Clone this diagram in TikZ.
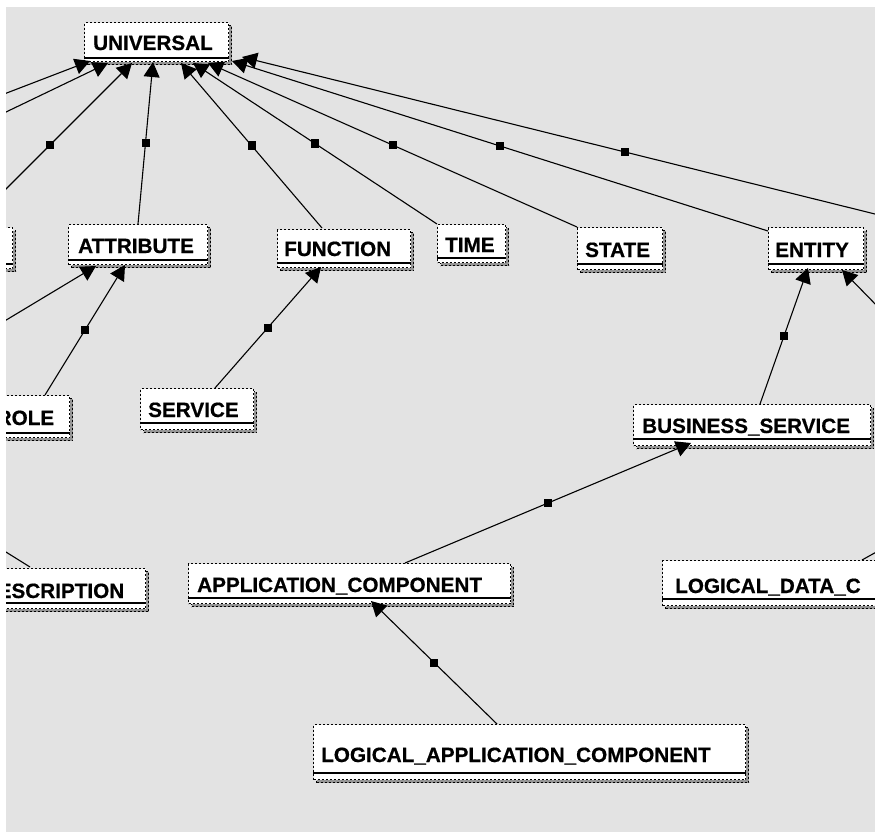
\documentclass[tikz,border=0pt]{standalone}
\usepackage{fontspec}
\setmainfont{Liberation Sans}[BoldFeatures={FakeBold=0.6}]
\usetikzlibrary{arrows.meta,shadows}

\definecolor{canvas}{HTML}{E3E3E3}
\definecolor{shade}{HTML}{959595}

\tikzset{
  classbox/.style={draw=black, line width=1.2pt, dash pattern=on 2pt off 2pt,
    fill=white, inner sep=0pt, anchor=north west,
    copy shadow={shadow xshift=3pt, shadow yshift=-3pt, fill=shade,
      draw=black, dash pattern=on 2pt off 2pt}},
  sepline/.style={draw=black, line width=1.6pt},
  classname/.style={font=\bfseries\fontsize{20.7}{24}\selectfont,
    anchor=base west, inner sep=0pt},
  gen/.style={draw=black, line width=1.1pt,
    -{Triangle[length=15pt,width=16pt]}},
  midmark/.style={rectangle, fill=black, draw=none,
    minimum size=8pt, inner sep=0pt},
}

% class box: name, left, top, right, bottom, separator y, text x, baseline, label
\newcommand\umlclass[9]{%
  \node[classbox, minimum width={(#4-#2)*1pt}, minimum height={(#5-#3)*1pt}] (#1) at (#2,#3) {};
  \draw[sepline] ([yshift={(#5-#6)*1pt}]#1.south west) -- ([yshift={(#5-#6)*1pt}]#1.south east);
  \node[classname] (#1-name) at (#7,#8) {#9};
}

\begin{document}
\begin{tikzpicture}[x=1pt, y=-1pt]
\useasboundingbox (0,0) rectangle (875,832);
\fill[white] (0,0) rectangle (875,832);
\fill[canvas] (6,7) rectangle (875,832);

\begin{scope}
\clip (6,7) rectangle (875,832);

% classes
\umlclass{univ}{84}{22}{228}{61}{57}{93}{50}{UNIVERSAL}
\umlclass{leftbox}{-100}{227}{12}{268}{263}{-90}{256}{}
\umlclass{attr}{68}{224}{207}{264}{259}{78}{253}{ATTRIBUTE}
\umlclass{func}{277}{229}{410}{267}{262}{284}{256}{FUNCTION}
\umlclass{time}{437}{224}{505}{262}{257}{445}{252}{TIME}
\umlclass{state}{577}{227}{662}{269}{263}{585}{257}{STATE}
\umlclass{entity}{768}{227}{863}{269}{263}{775}{257}{ENTITY}
\umlclass{role}{-40}{395}{69}{437}{432}{-3.5}{425}{ROLE}
\umlclass{service}{140}{388}{253}{429}{422}{148}{417}{SERVICE}
\umlclass{bservice}{633}{404}{870}{445}{438}{642}{433}{BUSINESS\_SERVICE}
\umlclass{descr}{-30}{568}{145}{608}{602}{-2.5}{598}{ESCRIPTION}
\umlclass{appcomp}{188}{563}{510}{603}{597}{197}{592}{APPLICATION\_COMPONENT}
\umlclass{ldc}{662}{560}{1000}{605}{598}{675}{593}{LOGICAL\_DATA\_C}
\umlclass{lac}{313}{724}{745}{779}{772}{321}{762}{LOGICAL\_APPLICATION\_COMPONENT}

% connector end points
\coordinate (ua) at (90,61);   \coordinate (a0) at (-100,134);
\coordinate (ub) at (108,63);  \coordinate (b0) at (-150,187);
\coordinate (uc) at (132,63);  \coordinate (c0) at (-32,227);
\coordinate (ud) at (153,62);  \coordinate (attrtop) at (138,224);
\coordinate (ue) at (181,63);  \coordinate (functop) at (322,228);
\coordinate (uf) at (193,63);  \coordinate (timetop) at (437,224);
\coordinate (ug) at (208,63);  \coordinate (statetop) at (577,227);
\coordinate (uh) at (232,61);  \coordinate (entitytop) at (768,231);
\coordinate (ui) at (242,57);  \coordinate (i0) at (1008,247);

\coordinate (attrA) at (96,266);  \coordinate (l0) at (-150,414);
\coordinate (attrB) at (125,265); \coordinate (roletop) at (45,395);
\coordinate (funcA) at (321,267); \coordinate (servicetop) at (215,388);
\coordinate (entA) at (808,268);  \coordinate (bstop) at (760,404);
\coordinate (entB) at (842,270);  \coordinate (r0) at (1000,432);
\coordinate (bsA) at (691,443);   \coordinate (actop) at (405,563);
\coordinate (acA) at (371,601);   \coordinate (lactop) at (497,724);
\coordinate (ldctop) at (862,560); \coordinate (ldcpar) at (1000,483);
\coordinate (descrtop) at (30,567); \coordinate (descrpar) at (-100,486);

% generalisations
\draw[gen] (a0) -- node[midmark]{} (ua);
\draw[gen] (b0) -- node[midmark]{} (ub);
\draw[gen] (c0) -- node[midmark]{} (uc);
\draw[gen] (attrtop) -- node[midmark]{} (ud);
\draw[gen] (functop) -- node[midmark]{} (ue);
\draw[gen] (timetop) -- node[midmark]{} (uf);
\draw[gen] (statetop) -- node[midmark]{} (ug);
\draw[gen] (entitytop) -- node[midmark]{} (uh);
\draw[gen] (i0) -- node[midmark]{} (ui);

\draw[gen] (l0) -- node[midmark]{} (attrA);
\draw[gen] (roletop) -- node[midmark]{} (attrB);
\draw[gen] (servicetop) -- node[midmark]{} (funcA);
\draw[gen] (bstop) -- node[midmark]{} (entA);
\draw[gen] (r0) -- node[midmark]{} (entB);
\draw[gen] (actop) -- node[midmark]{} (bsA);
\draw[gen] (lactop) -- node[midmark]{} (acA);
\draw[gen] (ldctop) -- node[midmark]{} (ldcpar);
\draw[gen] (descrtop) -- node[midmark]{} (descrpar);
\end{scope}
\end{tikzpicture}
\end{document}
